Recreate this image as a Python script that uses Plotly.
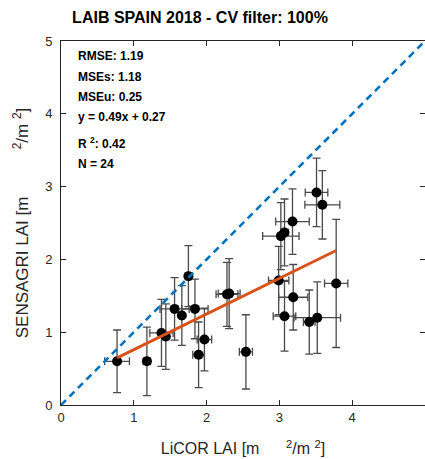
import plotly.graph_objects as go

# LiCOR LAI (x) and SENSAGRI LAI (y) with their error half-widths
licor = [0.77, 1.18, 1.38, 1.44, 1.56, 1.66, 1.75, 1.84, 1.89, 1.97, 2.28, 2.31,
         2.54, 2.99, 3.02, 3.07, 3.18, 3.07, 3.19, 3.41, 3.52, 3.51, 3.59, 3.78]
sensagri = [0.60, 0.60, 0.99, 0.94, 1.32, 1.23, 1.77, 1.32, 0.69, 0.90, 1.52, 1.53,
            0.73, 1.71, 2.32, 2.37, 2.52, 1.22, 1.48, 1.14, 1.20, 2.92, 2.75, 1.67]
licor_err = [0.17, 0.05, 0.16, 0.04, 0.20, 0.03, 0.04, 0.18, 0.08, 0.10, 0.15, 0.15,
             0.09, 0.14, 0.25, 0.05, 0.23, 0.155, 0.20, 0.08, 0.32, 0.155, 0.24, 0.16]
sensagri_err = [0.43, 0.47, 0.46, 0.45, 0.43, 0.41, 0.42, 0.41, 0.45, 0.43, 0.44, 0.48,
                0.51, 0.47, 0.46, 0.46, 0.45, 0.48, 0.45, 0.44, 0.49, 0.47, 0.47, 0.88]

one_to_one = [0, 5]
slope, intercept = 0.49, 0.27
fit_x = [min(licor), max(licor)]
fit_y = [slope * v + intercept for v in fit_x]

stats_lines = ["RMSE: 1.19", "MSEs: 1.18", "MSEu: 0.25", "y = 0.49x + 0.27",
               "R <sup>2</sup>: 0.42", "N = 24"]
stats_y = [4.79, 4.51, 4.23, 3.96, 3.60, 3.31]

FONT = "Liberation Sans, Arial, sans-serif"
AX = "#262626"

fig = go.Figure()
fig.add_trace(go.Scatter(
    x=licor, y=sensagri, mode="markers",
    marker=dict(color="black", size=10, line=dict(width=0)),
    error_x=dict(type="data", array=licor_err, color="#4a4a4a", thickness=1.3, width=4),
    error_y=dict(type="data", array=sensagri_err, color="#4a4a4a", thickness=1.3, width=4),
    showlegend=False, cliponaxis=False))
fig.add_trace(go.Scatter(
    x=one_to_one, y=one_to_one, mode="lines",
    line=dict(color="#0072BD", width=2.6, dash="7px,5px"), showlegend=False))
fig.add_trace(go.Scatter(
    x=fit_x, y=fit_y, mode="lines",
    line=dict(color="#D95319", width=3), showlegend=False))

for t, yy in zip(stats_lines, stats_y):
    fig.add_annotation(x=0.041, xref="paper", y=yy, yref="y", text="<b>" + t + "</b>",
                       showarrow=False, xanchor="left", yanchor="middle",
                       font=dict(family=FONT, size=12, color="black"))

nb = "\u00a0"
axis_common = dict(range=[0, 5], tickvals=[0, 1, 2, 3, 4, 5], ticks="inside", ticklen=5,
                   tickcolor=AX, tickwidth=1, showline=True, linecolor=AX, linewidth=1,
                   mirror="ticks", showgrid=False, zeroline=False, automargin=False,
                   tickfont=dict(family=FONT, size=13, color=AX))
fig.update_xaxes(**axis_common,
                 title=dict(text="LiCOR LAI [m" + nb * 6 + "<sup>2</sup>/m <sup>2</sup>]",
                            font=dict(family=FONT, size=16, color=AX), standoff=19))
fig.update_yaxes(**axis_common, ticklabelstandoff=5,
                 title=dict(text="SENSAGRI LAI [m" + nb * 10 + "<sup>2</sup>/m <sup>2</sup>]",
                            font=dict(family=FONT, size=17, color=AX), standoff=12))

fig.update_layout(
    width=425, height=459,
    margin=dict(l=61, r=0, t=41, b=54),
    paper_bgcolor="white", plot_bgcolor="white",
    title=dict(text="<b>LAIB SPAIN 2018 - CV filter: 100%</b>", xref="container",
               x=200 / 425, xanchor="center", yref="container", y=1 - 17.5 / 459,
               yanchor="middle", font=dict(family=FONT, size=16, color="black")),
)
fig.write_html("out.html")
